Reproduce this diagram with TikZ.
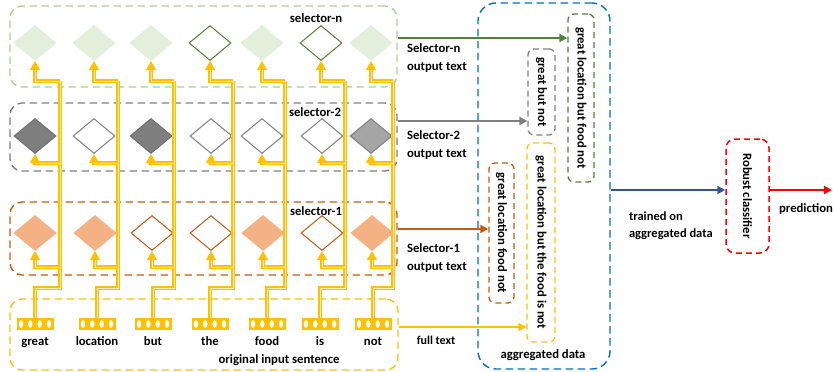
\documentclass[tikz,border=0pt]{standalone}
\usepackage{fontspec}
\setmainfont{Carlito}
\usepackage{graphicx}
\usetikzlibrary{shapes.geometric,arrows.meta}

\definecolor{ylw}{HTML}{FFC000}
\definecolor{grn}{HTML}{548235}
\definecolor{lgrn}{HTML}{A9D18E}
\definecolor{pgrn}{HTML}{E2EFDA}
\definecolor{gry}{HTML}{7F7F7F}
\definecolor{dgry}{HTML}{6E6E6E}
\definecolor{lgry}{HTML}{A5A5A5}
\definecolor{org}{HTML}{C55A11}
\definecolor{salm}{HTML}{F4B183}
\definecolor{blu}{HTML}{0070C0}
\definecolor{dblu}{HTML}{2F5597}

\tikzset{
  group/.style={draw=#1, line width=1.4pt, dash pattern=on 7.5pt off 4.5pt, rounded corners=12pt, inner sep=0pt},
  outbox/.style={draw=#1, line width=1.3pt, dash pattern=on 6pt off 4pt, rounded corners=6pt, inner sep=0pt},
  sel/.style={diamond, inner sep=0pt, minimum width=42pt, minimum height=35pt, line width=1pt},
  keep/.style={sel, fill=#1, draw=#1},
  drop/.style={sel, fill=white, draw=#1},
  vec/.style={fill=ylw, minimum width=37pt, minimum height=12pt, inner sep=0pt,
    path picture={\foreach \k in {-14,-4.7,4.7,14} \fill[white] ([xshift=\k pt]path picture bounding box.center) ellipse (2.2pt and 3.8pt);}},
  wire/.style={draw=ylw, double=ylw!30, line width=1.1pt, double distance=0.9pt},
  tip/.style={-{Triangle[length=8pt,width=8pt]}},
  wiretip/.style={-{Triangle[length=9pt,width=10pt]}},
  every label/.style={text height=9pt, text depth=3pt},
}

\begin{document}
\begin{tikzpicture}[x=1pt,y=-1pt,font=\fontsize{12.7}{18}\selectfont\bfseries]
    \useasboundingbox (0,0) rectangle (833,372);

    % selector boxes
    \node (grp-n) [group=lgrn, minimum width=387pt, minimum height=81pt] at (203.5,46.5) {};
    \node (grp-2) [group=gry, minimum width=387pt, minimum height=68pt] at (203.5,137) {};
    \node (grp-1) [group=org, minimum width=387pt, minimum height=73pt] at (203.5,238.5) {};
    \node (grp-in) [group=ylw, minimum width=388pt, minimum height=71pt] at (204,334.5) {};
    \node (lbl-n) at (316,18) {selector-n};
    \node (lbl-2) at (315,112) {selector-2};
    \node (lbl-1) at (316,211) {selector-1};
    \node (lbl-in) at (279,360) {original input sentence};

    % word vectors
    \node (v-great) [vec, label={[label distance=2.5pt]below:great}] at (35,324) {};
    \node (v-location) [vec, label={[label distance=2.5pt]below:location}] at (97,324) {};
    \node (v-but) [vec, label={[label distance=2.5pt]below:but}] at (153,324) {};
    \node (v-the) [vec, label={[label distance=2.5pt]below:the}] at (210,324) {};
    \node (v-food) [vec, label={[label distance=2.5pt]below:food}] at (267,324) {};
    \node (v-is) [vec, label={[label distance=2.5pt]below:is}] at (320,324) {};
    \node (v-not) [vec, label={[label distance=2.5pt]below:not}] at (373,324) {};

    % selector-n
    \node (n-great) [keep=pgrn] at (35,43) {};
    \node (n-location) [keep=pgrn] at (94,43) {};
    \node (n-but) [keep=pgrn] at (151,43) {};
    \node (n-the) [drop=grn] at (210,43) {};
    \node (n-food) [keep=pgrn] at (262,43) {};
    \node (n-is) [drop=grn] at (321,43) {};
    \node (n-not) [keep=pgrn] at (371,43) {};

    % selector-2
    \node (two-great) [keep=gry, draw=dgry] at (35,136) {};
    \node (two-location) [drop=gry] at (94,136) {};
    \node (two-but) [keep=gry, draw=dgry] at (151,136) {};
    \node (two-the) [drop=gry] at (211,136) {};
    \node (two-food) [drop=gry] at (262,136) {};
    \node (two-is) [drop=gry] at (322,136) {};
    \node (two-not) [keep=lgry, draw=gry] at (371,136) {};

    % selector-1
    \node (one-great) [keep=salm] at (35,233) {};
    \node (one-location) [keep=salm] at (95,233) {};
    \node (one-but) [drop=org] at (152,233) {};
    \node (one-the) [drop=org] at (211,233) {};
    \node (one-food) [keep=salm] at (263,233) {};
    \node (one-is) [drop=org] at (322,233) {};
    \node (one-not) [keep=salm] at (372,233) {};

    % wiring from the words to every selector
    \foreach \w/\bx in {great/60,location/118,but/174,the/233,food/285,is/345,not/393} {
        \draw [wire] (v-\w.north) |- (\bx,288) -- (\bx,81);
        \draw [wire,wiretip] (\bx,81) -| (n-\w.south);
        \draw [wire,wiretip] (\bx,163) -| (two-\w.south);
        \draw [wire,wiretip] (\bx,267) -| (one-\w.south);
    }

    % aggregated data
    \node (agg) [group=blu, minimum width=132pt, minimum height=366pt, rounded corners=18pt] at (544,186) {};
    \node (agg-lbl) at (543,355) {aggregated data};
    \node (out-n) [outbox=grn, minimum width=26pt, minimum height=168pt] at (581,98) {\rotatebox{-90}{great location but food not}};
    \node (out-2) [outbox=gry, minimum width=27pt, minimum height=86pt] at (541.5,92) {\rotatebox{-90}{great but not}};
    \node (out-full) [outbox=ylw, minimum width=28pt, minimum height=199pt] at (541,242.5) {\rotatebox{-90}{great location but the food is not}};
    \node (out-1) [outbox=org, minimum width=25pt, minimum height=140pt] at (501.5,233) {\rotatebox{-90}{great location food not}};

    \draw [tip,draw=grn,fill=grn,line width=2pt] ([yshift=8.5pt]grp-n.east) -- node [pos=0,anchor=north west,align=left,xshift=5pt,yshift=-1pt] {Selector-n\\output text} ([yshift=8.5pt]grp-n.east -| out-n.west);
    \draw [tip,draw=gry,fill=gry,line width=2pt] ([yshift=16pt]grp-2.east) -- node [pos=0,anchor=north west,align=left,xshift=5pt,yshift=-5pt] {Selector-2\\output text} ([yshift=16pt]grp-2.east -| out-2.west);
    \draw [tip,draw=org,fill=org,line width=2pt] ([yshift=9.5pt]grp-1.east) -- node [pos=0,anchor=north west,align=left,xshift=5pt,yshift=-10pt] {Selector-1\\output text} ([yshift=9.5pt]grp-1.east -| out-1.west);
    \draw [tip,draw=ylw,fill=ylw,line width=1.6pt] ([yshift=7.5pt]grp-in.east) -- node [pos=0,anchor=north west,xshift=14pt,yshift=-5pt,font=\fontsize{12}{18}\selectfont\bfseries] {full text} ([yshift=7.5pt]grp-in.east -| out-full.west);

    % classifier
    \node (clf) [outbox=red, line width=1.5pt, minimum width=43pt, minimum height=114pt, rounded corners=9pt] at (747.5,196) {\rotatebox{-90}{Robust classifier}};
    \coordinate (pred) at (832,190);
    \draw [tip,draw=dblu,fill=dblu,line width=2pt] ([yshift=-4pt]agg.east) -- node [pos=0,anchor=north west,align=left,xshift=14pt,yshift=-17pt,font=\fontsize{12.5}{17}\selectfont\bfseries] {trained on\\aggregated data} ([yshift=-4pt]agg.east -| clf.west);
    \draw [tip,draw=red,fill=red,line width=2pt] ([yshift=6pt]clf.east) -- node [pos=0,anchor=north west,xshift=5pt,yshift=-9.5pt] {prediction} (pred);
\end{tikzpicture}
\end{document}
